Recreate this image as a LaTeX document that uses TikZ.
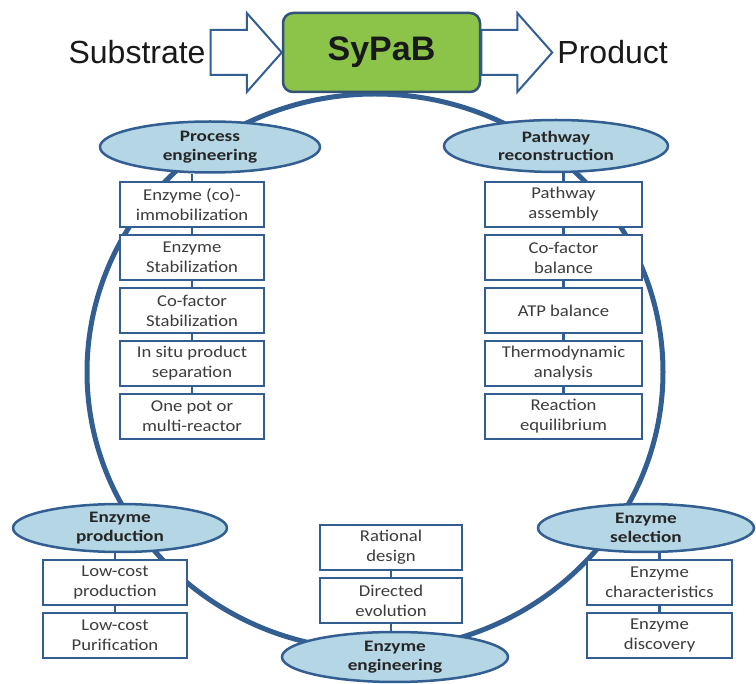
\documentclass[tikz,border=0pt]{standalone}
\usepackage{fontspec}
\setmainfont{Liberation Sans}
\newfontfamily\boxfont[FakeStretch=1.13]{Carlito}
\newfontfamily\headfont[FakeStretch=1.2]{Carlito}
\usepackage{tikz}
\usetikzlibrary{shapes.geometric, shapes.arrows, positioning}
\definecolor{ringblue}{RGB}{50, 94, 145}
\definecolor{capsule}{RGB}{180, 214, 229}
\definecolor{sypabgreen}{RGB}{140, 196, 74}
\definecolor{framegray}{RGB}{52, 82, 118}
\definecolor{textgray}{RGB}{60, 60, 60}
\tikzstyle{stage} = [ellipse, draw=ringblue, line width=2.5pt, fill=capsule, inner sep=0pt, align=center, font=\headfont\bfseries\fontsize{16}{18.5}\selectfont, text=black!85]
\tikzstyle{task} = [rectangle, draw=ringblue, line width=2.6pt, fill=white, minimum width=144pt, minimum height=45pt, inner sep=0pt, outer sep=0pt, align=center, font=\boxfont\fontsize{16.5}{20}\selectfont, text=textgray]
\tikzstyle{link} = [draw=ringblue, line width=2.5pt]
\tikzstyle{blockarrow} = [single arrow, draw=ringblue, line width=2pt, fill=white, text height=43pt, text depth=0pt, minimum height=71pt, minimum width=77pt, single arrow head extend=17pt, single arrow tip angle=97, inner sep=0pt, outer sep=0pt]

\begin{document}
\begin{tikzpicture}[x=1pt, y=-1pt, node distance=8pt]
    \useasboundingbox (0,0) rectangle (756,684);

    % Cycle ring behind everything
    \draw[ringblue, line width=5pt] (375,372) ellipse [x radius=288, y radius=278];

    % Central block with input and output
    \node[rectangle, rounded corners=10pt, minimum width=197pt, minimum height=79pt, fill=sypabgreen, draw=framegray, line width=2.5pt, font=\bfseries\fontsize{34}{40}\selectfont, text=black!90] (sypab) at (381.5, 52.5) {SyPaB};
    \node[blockarrow, left=0pt of sypab] (inarrow) {};
    \node[blockarrow, right=0pt of sypab] (outarrow) {};
    \node[left=5pt of inarrow, inner sep=0pt, font=\fontsize{32}{38}\selectfont, text=black!90] (substrate) {Substrate};
    \node[right=5pt of outarrow, inner sep=0pt, font=\fontsize{32}{38}\selectfont, text=black!90] (product) {Product};

    % Stages on the ring
    \node[stage, minimum width=220pt, minimum height=51pt] (proc) at (210, 147) {Process\\engineering};
    \node[stage, minimum width=224pt, minimum height=52pt] (path) at (556, 146) {Pathway\\reconstruction};
    \node[stage, minimum width=214pt, minimum height=48pt] (prod) at (120, 528) {Enzyme\\production};
    \node[stage, minimum width=216pt, minimum height=48pt] (sel) at (646, 528) {Enzyme\\selection};
    \node[stage, minimum width=226pt, minimum height=50pt] (eng) at (395, 657) {Enzyme\\engineering};

    % Process engineering tasks
    \node[task] (pe1) at (192, 204.5) {Enzyme (co)-\\immobilization};
    \node[task, below=of pe1] (pe2) {Enzyme\\Stabilization};
    \node[task, below=of pe2] (pe3) {Co-factor\\Stabilization};
    \node[task, below=of pe3] (pe4) {In situ product\\separation};
    \node[task, below=of pe4] (pe5) {One pot or\\multi-reactor};

    % Pathway reconstruction tasks
    \node[task, minimum width=157pt] (pr1) at (563.5, 204.5) {Pathway\\assembly};
    \node[task, minimum width=157pt, below=of pr1] (pr2) {Co-factor\\balance};
    \node[task, minimum width=157pt, below=of pr2] (pr3) {ATP balance};
    \node[task, minimum width=157pt, below=of pr3] (pr4) {Thermodynamic\\analysis};
    \node[task, minimum width=157pt, below=of pr4] (pr5) {Reaction\\equilibrium};

    % Enzyme production tasks
    \node[task] (ep1) at (115, 582.5) {Low-cost\\production};
    \node[task, below=of ep1] (ep2) {Low-cost\\Purification};

    % Enzyme selection tasks
    \node[task, minimum width=145pt] (es1) at (659.5, 582.5) {Enzyme\\characteristics};
    \node[task, minimum width=145pt, below=of es1] (es2) {Enzyme\\discovery};

    % Enzyme engineering tasks
    \node[task, minimum width=142pt] (ee1) at (391, 547.5) {Rational\\design};
    \node[task, minimum width=142pt, below=of ee1] (ee2) {Directed\\evolution};

    % Links from stages to tasks
    \draw[link] (pe1.north) -- (pe1.north |- proc.south);
    \draw[link] (pe1.south) -- (pe2.north);
    \draw[link] (pe2.south) -- (pe3.north);
    \draw[link] (pe3.south) -- (pe4.north);
    \draw[link] (pe4.south) -- (pe5.north);

    \draw[link] (pr1.north) -- (pr1.north |- path.south);
    \draw[link] (pr1.south) -- (pr2.north);
    \draw[link] (pr2.south) -- (pr3.north);
    \draw[link] (pr3.south) -- (pr4.north);
    \draw[link] (pr4.south) -- (pr5.north);

    \draw[link] (ep1.north) -- (ep1.north |- prod.south);
    \draw[link] (ep1.south) -- (ep2.north);

    \draw[link] (es1.north) -- (es1.north |- sel.south);
    \draw[link] (es1.south) -- (es2.north);

    \draw[link] (ee1.south) -- (ee2.north);
    \draw[link] (ee2.south) -- (ee2.south |- eng.north);
\end{tikzpicture}
\end{document}
